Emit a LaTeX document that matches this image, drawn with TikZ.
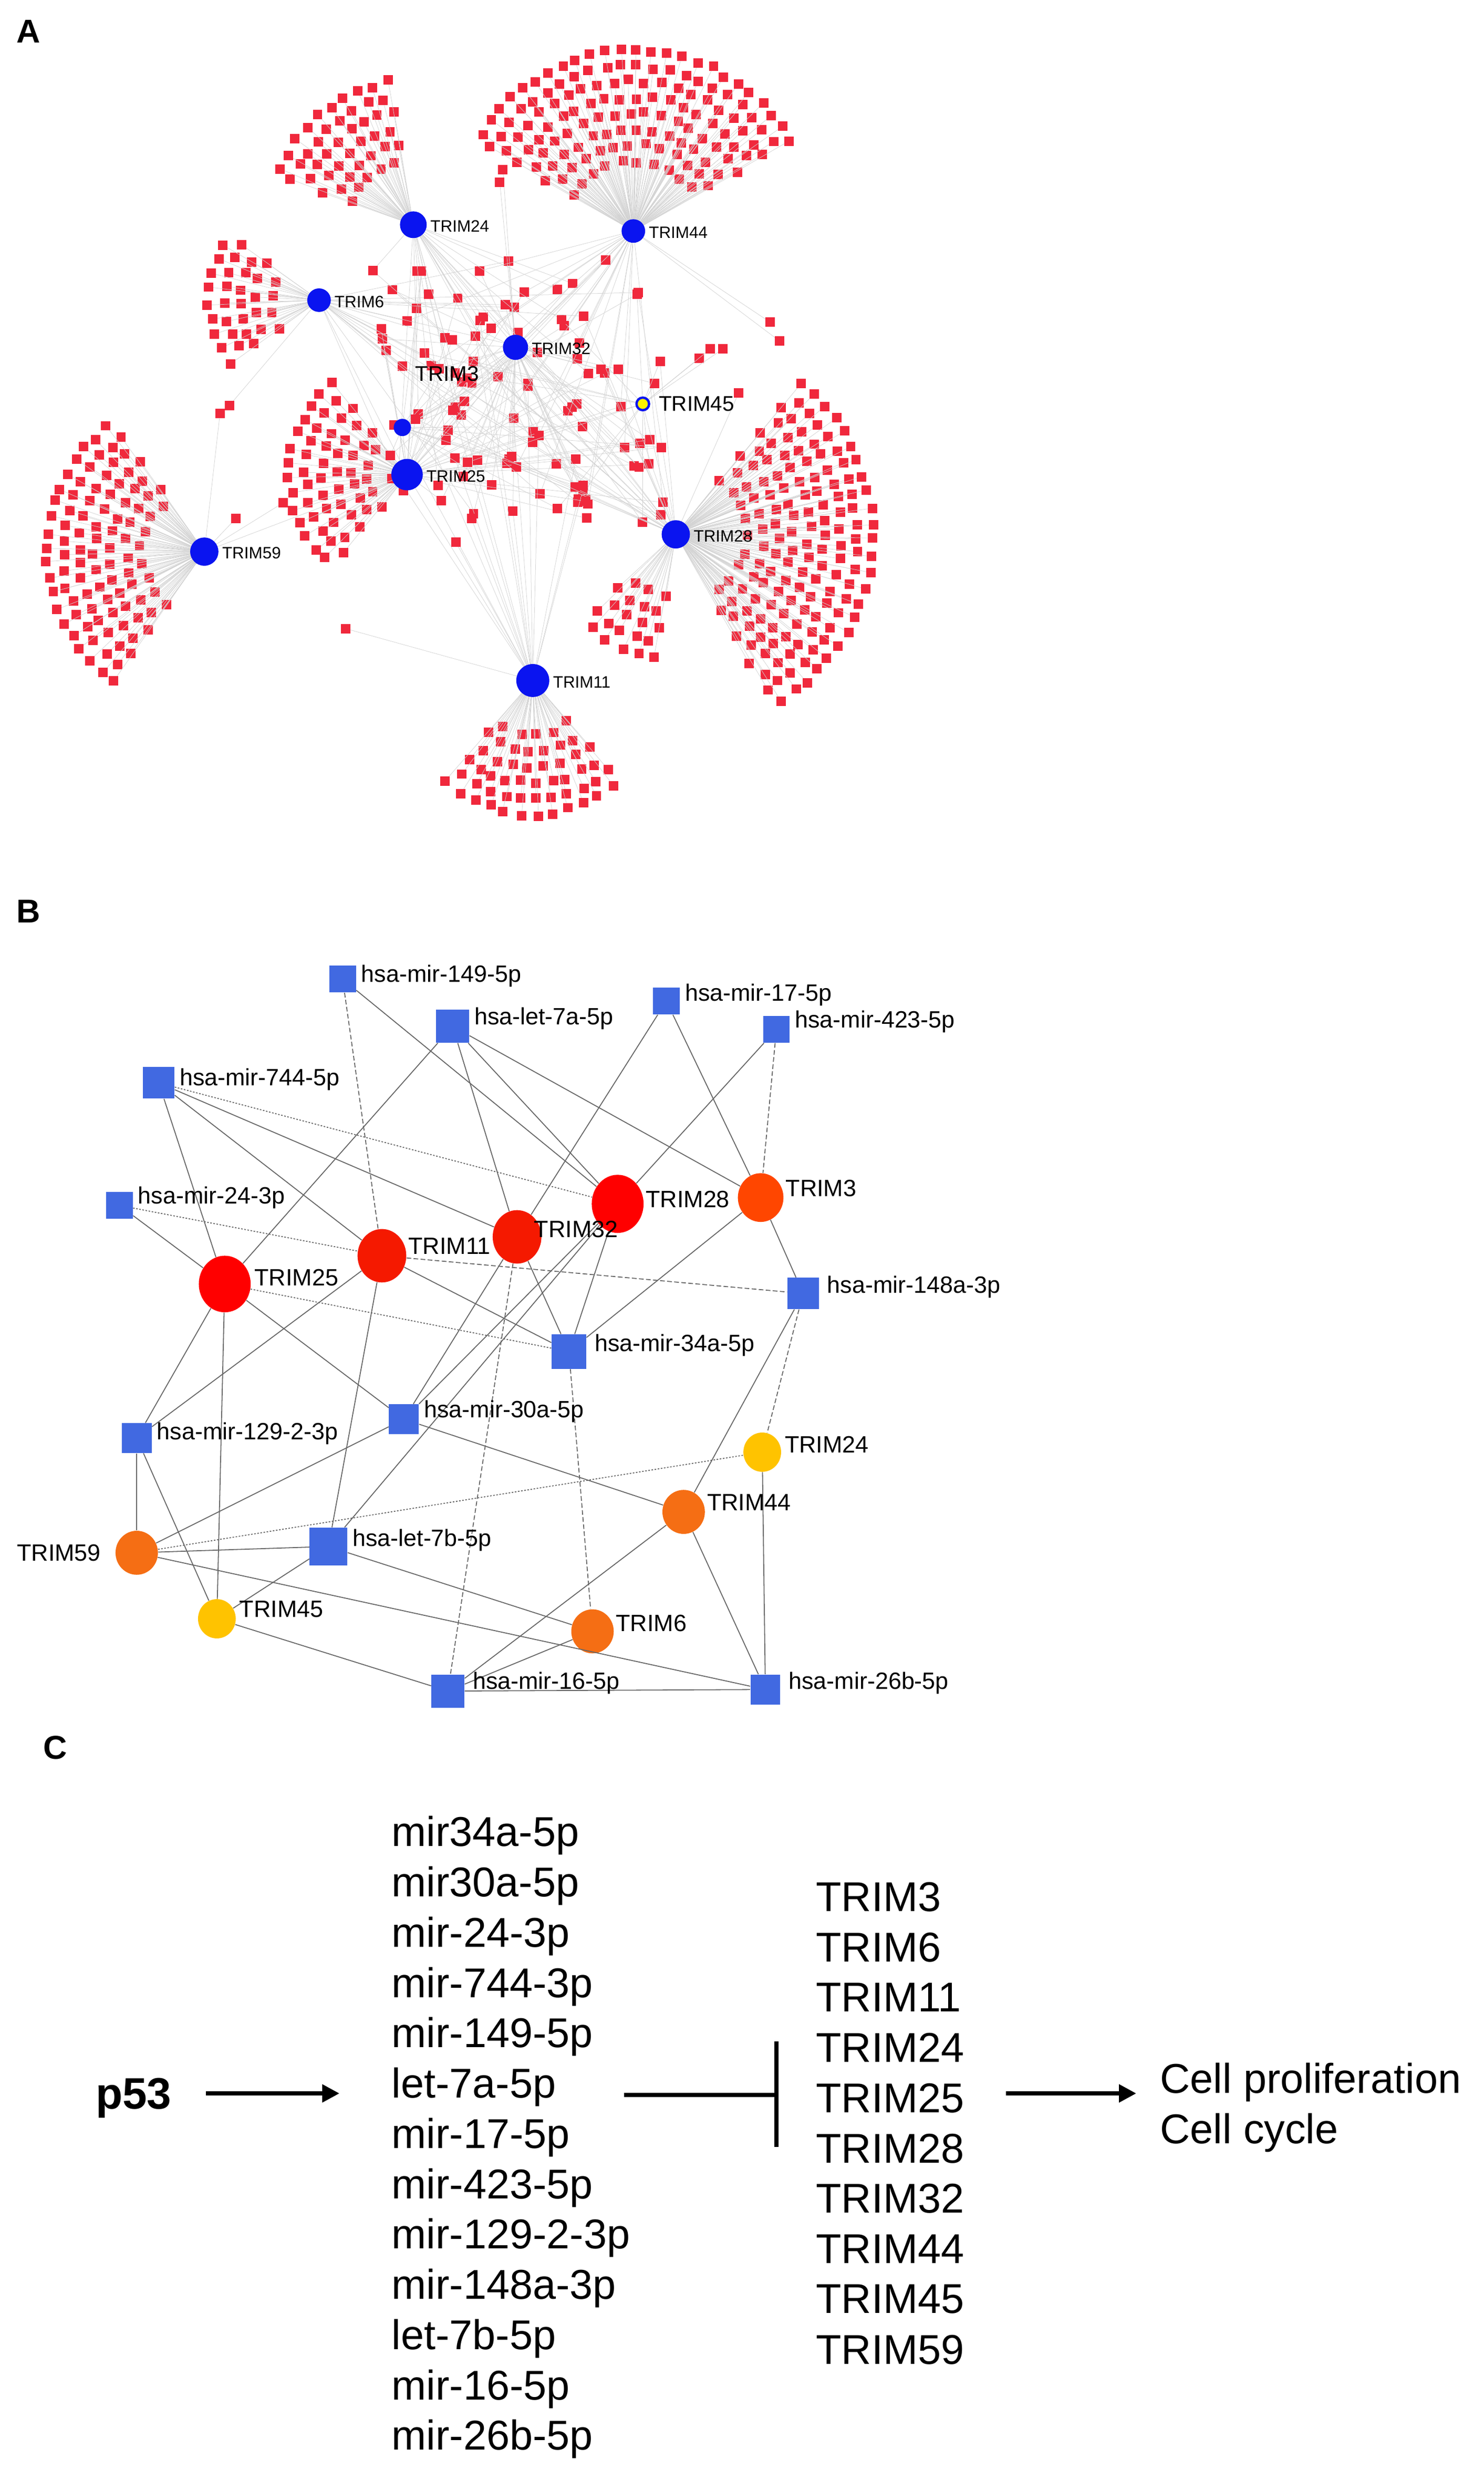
\documentclass[tikz,border=0pt]{standalone}
\usepackage{fontspec}
\setmainfont{Liberation Sans}
\usetikzlibrary{arrows.meta,shapes.geometric,calc}
\definecolor{sqred}{RGB}{240,40,60}
\definecolor{hubblue}{RGB}{10,20,240}
\definecolor{mblue}{RGB}{65,105,225}
\definecolor{tdark}{RGB}{255,0,0}
\definecolor{tred}{RGB}{245,25,0}
\definecolor{torg}{RGB}{255,70,0}
\definecolor{tmid}{RGB}{245,110,20}
\definecolor{tyel}{RGB}{255,195,0}
\tikzset{
 aedge/.style={gray!35,line width=0.25pt},
 hub/.style={circle,fill=hubblue,inner sep=0pt},
 alab/.style={font=\fontsize{10.5}{11}\selectfont,anchor=west,inner sep=1pt},
 mir/.style={rectangle,fill=mblue,minimum size=18pt,inner sep=0pt},
 trim/.style={ellipse,inner sep=0pt},
 blab/.style={font=\fontsize{15}{16}\selectfont,anchor=west,inner sep=1pt},
 se/.style={gray!80!black,line width=0.6pt},
 de/.style={se,dash pattern=on 3pt off 1.5pt},
 dd/.style={se,dash pattern=on 1pt off 1pt},
 clab/.style={font=\fontsize{26.5}{28}\selectfont,anchor=west,inner sep=0pt},
 plab/.style={font=\bfseries\fontsize{21}{22}\selectfont},
}
\newcommand\myfan[6]{%
 \foreach \k in {0,...,#5}{
  \pgfmathsetmacro\r{#4+10*\k}
  \pgfmathtruncatemacro\n{max(1,\r*(#3-#2)/180*3.1416/10)}
  \foreach \j in {0,...,\n}{
   \pgfmathsetmacro\a{#2+(#3-#2)*(\j+0.5*mod(\k,2))/(\n+0.5)}
   \path (#1) ++(\a:\r) ++(rand*1.5,rand*1.5) coordinate (q);
   \draw[aedge] (#1) -- (q);
   \fill[sqred] ($(q)+(-3,-3)$) rectangle ($(q)+(3,3)$);
  }}}
\begin{document}
\begin{tikzpicture}[x=1pt,y=-1pt]
\useasboundingbox (0,0) rectangle (944,1578);
\pgfmathsetseed{11}
% ---------- Panel A ----------
\node[plab] (LA) at (18,20) {A};
\coordinate (h24) at (263,143);
\coordinate (h44) at (403,147);
\coordinate (h6) at (203,191);
\coordinate (h32) at (328,221);
\coordinate (h3) at (256,272);
\coordinate (h45) at (409,257);
\coordinate (h25) at (259,302);
\coordinate (h28) at (430,340);
\coordinate (h59) at (130,351);
\coordinate (h11) at (339,433);
\myfan{h24}{-160}{-100}{42}{5}{}
\myfan{h44}{-150}{-30}{45}{7}{}
\myfan{h6}{145}{215}{30}{4}{}
\myfan{h59}{125}{235}{40}{6}{}
\myfan{h11}{50}{130}{35}{5}{}
\myfan{h28}{-50}{60}{45}{8}{}
\myfan{h28}{100}{135}{40}{4}{}
\myfan{h25}{130}{230}{25}{5}{}
\pgfmathdeclarerandomlist{hubs}{{h32}{h25}{h3}{h45}{h28}{h44}{h24}{h11}{h6}{h32}{h25}}
\foreach \i in {1,...,110}{
 \pgfmathsetmacro\px{235+rnd*190}
 \pgfmathsetmacro\py{165+rnd*170}
 \pgfmathrandomitem{\ha}{hubs}
 \pgfmathrandomitem{\hb}{hubs}
 \draw[aedge] (\ha) -- (\px,\py) -- (\hb);
 \fill[sqred] (\px-3,\py-3) rectangle (\px+3,\py+3);
}
\foreach \px/\py/\hh in {140/263/h59,146/258/h6,220/400/h11,320/108/h32,318/116/h32,490/205/h44,496/217/h44,445/228/h45,452/222/h45,460/222/h45,300/330/h11,290/345/h11,470/250/h28,150/330/h59,180/320/h59}{
 \draw[aedge] (\hh) -- (\px,\py);
 \fill[sqred] (\px-3,\py-3) rectangle (\px+3,\py+3);
}
\foreach \a/\b in {h24/h32,h44/h32,h32/h25,h3/h25,h28/h32,h59/h25,h11/h25,h6/h25,h45/h28}{\draw[aedge] (\a) -- (\b);}
\node[hub,minimum size=17pt] (A24) at (h24) {};
\node[hub,minimum size=15pt] (A44) at (h44) {};
\node[hub,minimum size=15pt] (A6) at (h6) {};
\node[hub,minimum size=16pt] (A32) at (h32) {};
\node[hub,minimum size=11pt] (A3) at (h3) {};
\node[circle,fill=yellow,draw=hubblue,line width=1.5pt,minimum size=8pt,inner sep=0pt] (A45) at (h45) {};
\node[hub,minimum size=20pt] (A25) at (h25) {};
\node[hub,minimum size=18pt] (A28) at (h28) {};
\node[hub,minimum size=18pt] (A59) at (h59) {};
\node[hub,minimum size=21pt] (A11) at (h11) {};
\node[alab] at ($(A24.east)+(1,1)$) {TRIM24};
\node[alab] at ($(A44.east)+(1,1)$) {TRIM44};
\node[alab] at ($(A6.east)+(1,1)$) {TRIM6};
\node[alab] at ($(A32.east)+(1,1)$) {TRIM32};
\node[alab,font=\fontsize{13.5}{14}\selectfont] at (263,238) {TRIM3};
\node[alab,font=\fontsize{13.5}{14}\selectfont] at (418,257) {TRIM45};
\node[alab] at ($(A25.east)+(1,1)$) {TRIM25};
\node[alab] at ($(A28.east)+(1,1)$) {TRIM28};
\node[alab] at ($(A59.east)+(1,1)$) {TRIM59};
\node[alab] at ($(A11.east)+(1,1)$) {TRIM11};
% ---------- Panel B ----------
\node[plab] (LB) at (18,580) {B};
\node[mir,minimum size=17pt] (m149) at (218,623) {};
\node[mir,minimum size=21pt] (m7a) at (288,653) {};
\node[mir,minimum size=17pt] (m17) at (424,637) {};
\node[mir,minimum size=17pt] (m423) at (494,655) {};
\node[mir,minimum size=20pt] (m744) at (101,689) {};
\node[mir,minimum size=17pt] (m24) at (76,767) {};
\node[mir,minimum size=20pt] (m148) at (511,823) {};
\node[mir,minimum size=22pt] (m34) at (362,860) {};
\node[mir,minimum size=19pt] (m30) at (257,903) {};
\node[mir,minimum size=19pt] (m129) at (87,915) {};
\node[mir,minimum size=24pt] (m7b) at (209,984) {};
\node[mir,minimum size=21pt] (m16) at (285,1076) {};
\node[mir,minimum size=19pt] (m26) at (487,1075) {};
\node[trim,fill=tdark,minimum width=33pt,minimum height=36pt] (T25) at (143,817) {};
\node[trim,fill=tred,minimum width=31pt,minimum height=34pt] (T11) at (243,799) {};
\node[trim,fill=tred,minimum width=31pt,minimum height=34pt] (T32) at (329,787) {};
\node[trim,fill=tdark,minimum width=33pt,minimum height=37pt] (T28) at (393,766) {};
\node[trim,fill=torg,minimum width=29pt,minimum height=31pt] (T3) at (484,762) {};
\node[trim,fill=tyel,minimum width=24pt,minimum height=25pt] (T24) at (485,924) {};
\node[trim,fill=tmid,minimum width=27pt,minimum height=28pt] (T44) at (435,962) {};
\node[trim,fill=tmid,minimum width=27pt,minimum height=28pt] (T59) at (87,988) {};
\node[trim,fill=tyel,minimum width=24pt,minimum height=25pt] (T45) at (138,1030) {};
\node[trim,fill=tmid,minimum width=27pt,minimum height=28pt] (T6) at (377,1038) {};
\foreach \a/\b/\s in {m149/T11/de,m149/T28/se,m7a/T25/se,m7a/T32/se,m7a/T28/se,m7a/T3/se,
 m17/T32/se,m17/T3/se,m423/T28/se,m423/T3/de,m744/T25/se,m744/T11/se,m744/T32/se,m744/T28/dd,
 m24/T25/se,m24/T11/dd,T11/m148/de,T11/m34/se,T11/m129/se,T25/m34/dd,T25/m129/se,T25/m30/se,
 T25/T45/se,T32/m34/se,T32/m30/se,T32/m16/de,T28/m34/se,T28/m7b/se,T28/m30/se,T3/m34/se,T3/m148/se,
 m34/T6/de,m148/T44/se,m148/T24/de,m30/T44/se,m30/T59/se,m129/T59/se,m129/T45/se,T59/m7b/se,
 T59/T24/dd,T59/m26/se,m7b/T6/se,m7b/T45/se,T45/m16/se,T44/m16/se,T44/m26/se,T24/m26/se,
 T6/m16/se,m16/m26/se,T11/m7b/se}{\draw[\s] (\a) -- (\b);}
\node[blab] at ($(m149.east)+(2,-2)$) {hsa-mir-149-5p};
\node[blab] at ($(m7a.east)+(2,-5)$) {hsa-let-7a-5p};
\node[blab] at ($(m17.east)+(2,-4)$) {hsa-mir-17-5p};
\node[blab] at ($(m423.east)+(2,-5)$) {hsa-mir-423-5p};
\node[blab] at ($(m744.east)+(2,-2)$) {hsa-mir-744-5p};
\node[blab] at ($(m24.east)+(2,-5)$) {hsa-mir-24-3p};
\node[blab] at ($(m148.east)+(4,-4)$) {hsa-mir-148a-3p};
\node[blab] at ($(m34.east)+(4,-4)$) {hsa-mir-34a-5p};
\node[blab] at ($(m30.east)+(2,-5)$) {hsa-mir-30a-5p};
\node[blab] at ($(m129.east)+(2,-3)$) {hsa-mir-129-2-3p};
\node[blab] at ($(m7b.east)+(2,-4)$) {hsa-let-7b-5p};
\node[blab] at ($(m16.east)+(4,-5)$) {hsa-mir-16-5p};
\node[blab] at ($(m26.east)+(4,-4)$) {hsa-mir-26b-5p};
\node[blab] at ($(T25.east)+(1,-4)$) {TRIM25};
\node[blab] at ($(T11.east)+(0,-6)$) {TRIM11};
\node[blab] at ($(T32.east)+(-6,-5)$) {TRIM32};
\node[blab] at ($(T28.east)+(0,-3)$) {TRIM28};
\node[blab] at ($(T3.east)+(0,-6)$) {TRIM3};
\node[blab] at ($(T24.east)+(1,-5)$) {TRIM24};
\node[blab] at ($(T44.east)+(0,-6)$) {TRIM44};
\node[blab,anchor=east] at ($(T59.west)+(-8,0)$) {TRIM59};
\node[blab] at ($(T45.east)+(1,-6)$) {TRIM45};
\node[blab] at ($(T6.east)+(0,-5)$) {TRIM6};
% ---------- Panel C ----------
\node[plab] (LC) at (35,1112) {C};
\node[font=\bfseries\fontsize{28}{30}\selectfont] (p53) at (85,1335) {p53};
\foreach \t [count=\i from 0] in {mir34a-5p,mir30a-5p,mir-24-3p,mir-744-3p,mir-149-5p,let-7a-5p,mir-17-5p,mir-423-5p,mir-129-2-3p,mir-148a-3p,let-7b-5p,mir-16-5p,mir-26b-5p}{
 \node[clab] (c\i) at (249,1168+32*\i) {\t};}
\foreach \t [count=\i from 0] in {TRIM3,TRIM6,TRIM11,TRIM24,TRIM25,TRIM28,TRIM32,TRIM44,TRIM45,TRIM59}{
 \node[clab] (t\i) at (519,1207+32*\i) {\t};}
\node[clab] (cp) at (738,1325) {Cell proliferation};
\node[clab] (cc) at (738,1357) {Cell cycle};
\coordinate (a1s) at (131,1332); \coordinate (a1e) at (216,1332);
\coordinate (i1s) at (397,1333); \coordinate (i1e) at (494,1333);
\coordinate (bt) at (494,1299); \coordinate (bb) at (494,1366);
\coordinate (a2s) at (640,1332); \coordinate (a2e) at (723,1332);
\draw[line width=2.6pt,-{Triangle[length=11pt,width=11pt]}] (a1s) -- (a1e);
\draw[line width=2.8pt] (i1s) -- (i1e);
\draw[line width=2.8pt] (bt) -- (bb);
\draw[line width=2.6pt,-{Triangle[length=11pt,width=11pt]}] (a2s) -- (a2e);
\end{tikzpicture}
\end{document}
